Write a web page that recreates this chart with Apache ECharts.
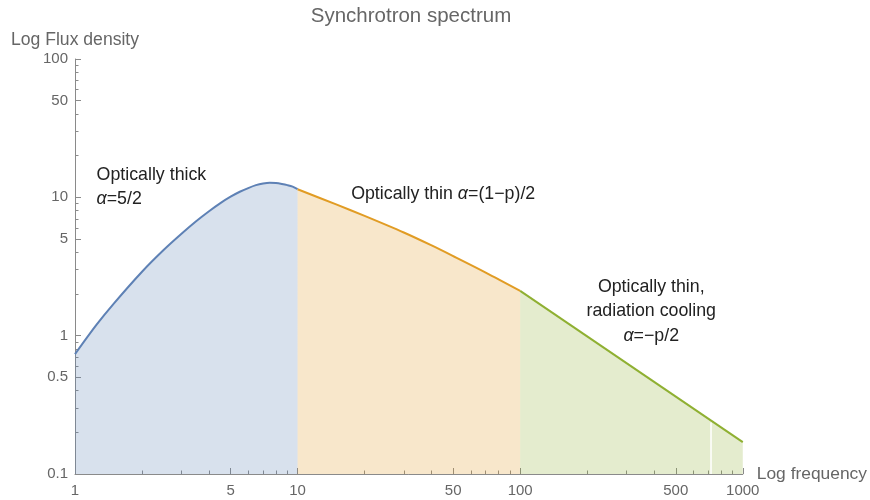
<!DOCTYPE html>
<html>
<head>
<meta charset="utf-8">
<script src="https://cdn.jsdelivr.net/npm/echarts@6/dist/echarts.min.js"></script>
<style>
  html, body { margin: 0; padding: 0; background: #fff; }
  #chart { width: 870px; height: 500px; }
</style>
</head>
<body>
<div id="chart"></div>
<script>
// Optically thick branch (self-absorbed, rises then turns over)
const thickFreq = [1, 1.25, 1.5, 2, 2.5, 3, 3.5, 4, 4.5, 5, 5.5, 6, 6.5, 7, 7.5, 8, 8.5, 9, 9.5, 10];
const thickFlux = [0.735, 1.20, 1.72, 2.90, 4.16, 5.43, 6.71, 7.93, 9.08, 10.1, 10.97, 11.67, 12.25, 12.6, 12.76, 12.7, 12.5, 12.25, 11.94, 11.45];

// Optically thin branch
const thinFreq = [10, 15, 20, 30, 40, 50, 70, 100];
const thinFlux = [11.45, 8.85, 7.34, 5.57, 4.49, 3.76, 2.86, 2.11];

// Optically thin with radiative cooling (pure power law)
const coolFreq = [100, 1000];
const coolFlux = [2.11, 0.17];

// Thin seam inside the cooling fill
const seamFreq = [720, 720];
const seamFlux = [0.1, 0.236];

// Axis ticks
const xMajorTicks = [1, 5, 10, 50, 100, 500, 1000];
const xMinorTicks = [2, 3, 4, 6, 7, 8, 9, 20, 30, 40, 60, 70, 80, 90, 200, 300, 400, 600, 700, 800, 900];
const yMajorTicks = [0.1, 0.5, 1, 5, 10, 50, 100];
const yMinorTicks = [0.2, 0.3, 0.4, 0.6, 0.7, 0.8, 0.9, 2, 3, 4, 6, 7, 8, 9, 20, 30, 40, 60, 70, 80, 90];

// Region labels, anchored in data coordinates
const notes = [
  { at: [1.25, 14.6], align: 'left', lines: ['Optically thick', '{a|α}=5/2'] },
  { at: [17.4, 10.6], align: 'left', lines: ['Optically thin {a|α}=(1\u2212p)/2'] },
  { at: [388, 2.26], align: 'center', lines: ['Optically thin,', 'radiation cooling', '{a|α}=\u2212p/2'] }
];

const FONT = "'Liberation Sans', Arial, Helvetica, sans-serif";
const AXIS_GRAY = '#8a8a8a';
const LABEL_GRAY = '#666666';
const NOTE_SIZE = 17.8;

const BLUE = '#5e81b5';
const ORANGE = '#e19c24';
const GREEN = '#8fb032';

const pairs = (xs, ys) => xs.map((x, i) => [x, ys[i]]);
const fmt = v => String(+(+v).toPrecision(3));

function xAxisDef(major) {
  return {
    type: 'log', logBase: 10, min: 1, max: 1000, position: 'bottom',
    axisLine: { show: major, lineStyle: { color: AXIS_GRAY, width: 1 } },
    axisTick: { show: true, inside: true, length: major ? 6 : 3.5,
      customValues: major ? xMajorTicks : xMinorTicks,
      lineStyle: { color: AXIS_GRAY, width: 1 } },
    axisLabel: { show: major, customValues: xMajorTicks, formatter: fmt,
      color: LABEL_GRAY, fontSize: 15, fontFamily: FONT, margin: 9 },
    splitLine: { show: false },
    minorTick: { show: false },
    name: major ? 'Log frequency' : '',
    nameLocation: 'end', nameGap: 14,
    nameTextStyle: { color: LABEL_GRAY, fontSize: 17.4, fontFamily: FONT }
  };
}

function yAxisDef(major) {
  return {
    type: 'log', logBase: 10, min: 0.1, max: 100, position: 'left',
    axisLine: { show: major, lineStyle: { color: AXIS_GRAY, width: 1 } },
    axisTick: { show: true, inside: true, length: major ? 6 : 3.5,
      customValues: major ? yMajorTicks : yMinorTicks,
      lineStyle: { color: AXIS_GRAY, width: 1 } },
    axisLabel: { show: major, customValues: yMajorTicks, formatter: fmt,
      color: LABEL_GRAY, fontSize: 15, fontFamily: FONT, margin: 7 },
    splitLine: { show: false },
    minorTick: { show: false },
    name: major ? 'Log Flux density' : '',
    nameLocation: 'end', nameGap: 10,
    nameTextStyle: { color: LABEL_GRAY, fontSize: 17.6, fontFamily: FONT }
  };
}

function regime(name, xs, ys, color, smooth) {
  return {
    name, type: 'line', data: pairs(xs, ys), smooth, symbol: 'none',
    lineStyle: { color, width: 2 },
    areaStyle: { color, opacity: 0.24, origin: 'start' },
    z: 3
  };
}

const chart = echarts.init(document.getElementById('chart'), null, { renderer: 'canvas' });

chart.setOption({
  backgroundColor: '#ffffff',
  animation: false,
  title: {
    text: 'Synchrotron spectrum', left: 406, top: 1, textAlign: 'center',
    textStyle: { color: '#666666', fontSize: 20.5, fontWeight: 'normal', fontFamily: FONT }
  },
  grid: { left: 75, right: 124, top: 59, bottom: 26 },
  xAxis: [xAxisDef(true), xAxisDef(false)],
  yAxis: [yAxisDef(true), yAxisDef(false)],
  series: [
    regime('thick', thickFreq, thickFlux, BLUE, 0.3),
    regime('thin', thinFreq, thinFlux, ORANGE, 0.3),
    regime('cooling', coolFreq, coolFlux, GREEN, false),
    {
      name: 'seam', type: 'line', data: pairs(seamFreq, seamFlux), symbol: 'none',
      lineStyle: { color: '#ffffff', width: 1.5 }, z: 4
    }
  ]
});

// Place region labels at their data-space anchors
const graphics = notes.map(n => {
  const p = chart.convertToPixel({ gridIndex: 0 }, n.at);
  return {
    type: 'text', x: p[0], y: p[1] - 12, silent: true,
    style: {
      text: n.lines.join('\n'),
      fill: '#222222', font: NOTE_SIZE + 'px ' + FONT,
      align: n.align, verticalAlign: 'top', lineHeight: 24.5,
      rich: { a: { fontStyle: 'italic', fontSize: NOTE_SIZE, fontFamily: FONT, fill: '#222222' } }
    }
  };
});
chart.setOption({ graphic: graphics });
</script>
</body>
</html>
